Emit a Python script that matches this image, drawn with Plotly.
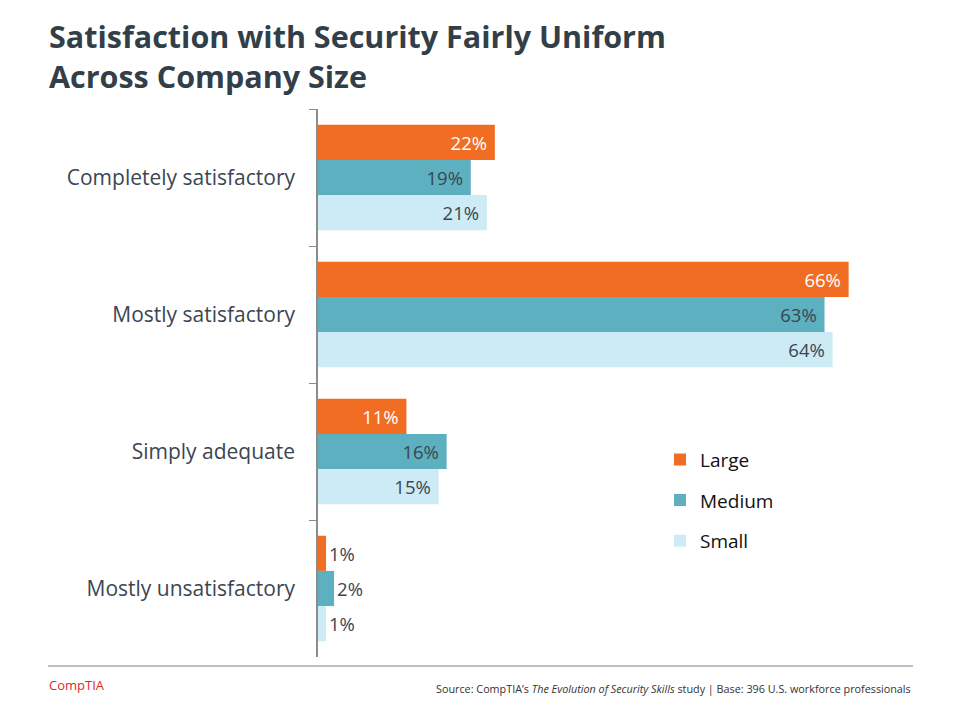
import plotly.graph_objects as go

categories = ["Completely satisfactory", "Mostly satisfactory", "Simply adequate", "Mostly unsatisfactory"]
series_names = ["Large", "Medium", "Small"]
large = [22, 66, 11, 1]
medium = [19, 63, 16, 2]
small = [21, 64, 15, 1]

colors = ["#F26D24", "#5DB0BF", "#CDEBF4"]
inside_text_colors = ["#FFFFFF", "#3B4653", "#3B4653"]
dark = "#3B4653"

fig = go.Figure()
for name, vals, col, itc in zip(series_names, [large, medium, small], colors, inside_text_colors):
    pos = ["inside" if v >= 5 else "outside" for v in vals]
    tcol = [itc if v >= 5 else dark for v in vals]
    txt = [f"{v}%&nbsp;" if v >= 5 else f"{v}%" for v in vals]
    fig.add_trace(go.Bar(
        y=categories, x=vals, name=name, orientation="h", legendgroup=name,
        marker=dict(color=col, line=dict(width=0)),
        text=txt, textposition=pos,
        insidetextanchor="end",
        textfont=dict(size=18.5, color=tcol, family="Open Sans"),
        cliponaxis=False,
    ))

fig.update_layout(
    width=960, height=720,
    paper_bgcolor="white", plot_bgcolor="white",
    margin=dict(l=318, r=39, t=109, b=63),
    barmode="group", bargap=0.23, bargroupgap=0,
    font=dict(family="Open Sans", color=dark),
    showlegend=True,
    legend=dict(x=(660-318)/603, y=0.395, xanchor="left", yanchor="top",
                font=dict(size=19, color="#111111", family="Open Sans"),
                tracegroupgap=13, itemwidth=30, bgcolor="rgba(0,0,0,0)"),
)
fig.update_xaxes(range=[0, 75], visible=False, showgrid=False)
fig.update_yaxes(autorange="reversed", showline=True, linecolor="#8C8C8C", linewidth=1.5,
                 ticks="outside", tickson="boundaries", ticklen=7, tickcolor="#8C8C8C",
                 tickfont=dict(size=21, color=dark, family="Open Sans"),
                 showgrid=False, zeroline=False, ticklabelstandoff=17)

fig.add_annotation(xref="paper", yref="paper", x=(47-318)/603, y=1 + (109-13)/548,
                   xanchor="left", yanchor="top", align="left", showarrow=False,
                   text="<b>Satisfaction with Security Fairly Uniform<br>Across Company Size</b>",
                   font=dict(size=30.5, color="#333F48", family="Open Sans"))
fig.add_shape(type="line", xref="paper", yref="paper",
              x0=(48-318)/603, x1=(913-318)/603, y0=-(666-657)/548, y1=-(666-657)/548,
              line=dict(color="#7F7F7F", width=1.2))
fig.add_annotation(xref="paper", yref="paper", x=(47-318)/603, y=-(685-657)/548,
                   xanchor="left", yanchor="middle", showarrow=False,
                   text="CompTIA", font=dict(size=13, color="#E0282E", family="Open Sans"))
fig.add_annotation(xref="paper", yref="paper", x=(913-318)/603, y=-(688-657)/548,
                   xanchor="right", yanchor="middle", showarrow=False,
                   text="Source: CompTIA’s <i>The Evolution of Security Skills</i> study | Base: 396 U.S. workforce professionals",
                   font=dict(size=10.8, color="#333333", family="Open Sans"))

fig.write_html("out.html")
